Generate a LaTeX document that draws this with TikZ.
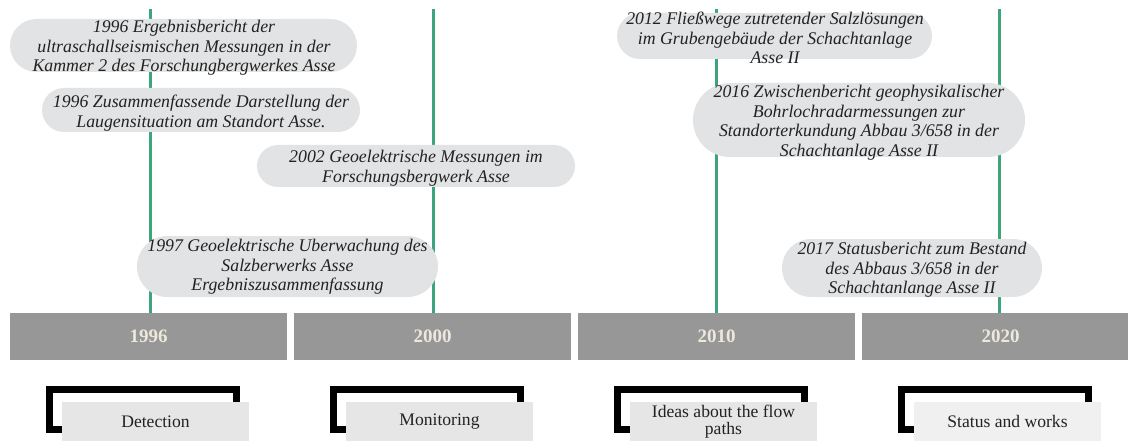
\documentclass[tikz,border=0pt]{standalone}
\usepackage{fontspec}
\setmainfont{Liberation Serif}
\usetikzlibrary{shapes.misc,calc}
\definecolor{bubblegrey}{HTML}{E2E3E5}
\definecolor{bargrey}{HTML}{979797}
\definecolor{yearcream}{HTML}{ECE8DC}
\definecolor{boxgrey}{HTML}{E6E6E6}
\definecolor{boxlight}{HTML}{F0F0F0}
\definecolor{linegreen}{HTML}{3DA47C}
\definecolor{textdark}{HTML}{222222}
\tikzset{
  bubble/.style={rounded rectangle, fill=bubblegrey, draw=none, inner sep=0pt},
  btext/.style={font=\fontsize{17.8}{19.5}\selectfont\itshape, align=center, text=textdark, inner sep=0pt},
  yearbar/.style={fill=bargrey, inner sep=0pt, minimum width=277pt, minimum height=47pt, font=\fontsize{19}{20}\selectfont\bfseries, text=yearcream},
  bracketline/.style={draw=black, line width=7pt},
  labelbox/.style={fill=boxgrey, inner sep=0pt, minimum width=187pt, minimum height=39pt, font=\fontsize{17.6}{17}\selectfont, align=center, text=textdark},
  vline/.style={draw=linegreen, line width=3pt}
}
\begin{document}
\begin{tikzpicture}[x=1pt,y=-1pt]
\useasboundingbox (0,0) rectangle (1128,441);
% year bars
\node[yearbar] (bar1) at (148.5,336.5) {1996};
\node[yearbar] (bar2) at (432.5,336.5) {2000};
\node[yearbar] (bar3) at (716.5,336.5) {2010};
\node[yearbar] (bar4) at (1000.5,336.5) {2020};
% green lines
\coordinate (t1) at (150.5,9);
\coordinate (t2) at (433,9);
\coordinate (t3) at (716,9);
\coordinate (t4) at (999.5,9);
\draw[vline] (t1) -- (t1 |- bar1.north);
\draw[vline] (t2) -- (t2 |- bar2.north);
\draw[vline] (t3) -- (t3 |- bar3.north);
\draw[vline] (t4) -- (t4 |- bar4.north);
% bubbles
\node[bubble, minimum width=347pt, minimum height=53pt] (b1) at (183.5,45.5) {};
\node[btext] (b1t) at ($(b1)+(0.5,2.5)$) {1996 Ergebnisbericht der\\ultraschallseismischen Messungen in der\\Kammer 2 des Forschungbergwerkes Asse};
\node[bubble, minimum width=318pt, minimum height=44pt] (b2) at (201,110) {};
\node[btext] (b2t) at ($(b2)+(0,3)$) {1996 Zusammenfassende Darstellung der\\Laugensituation am Standort Asse.};
\node[bubble, minimum width=318pt, minimum height=42pt] (b3) at (416,166) {};
\node[btext] (b3t) at ($(b3)+(0,2)$) {2002 Geoelektrische Messungen im\\Forschungsbergwerk Asse};
\node[bubble, minimum width=301pt, minimum height=61pt] (b4) at (287.5,266.5) {};
\node[btext] (b4t) at ($(b4)+(0,0.5)$) {1997 Geoelektrische Uberwachung des\\Salzberwerks Asse\\Ergebniszusammenfassung};
\node[bubble, minimum width=315pt, minimum height=46pt] (b5) at (774.5,36) {};
\node[btext] (b5t) at ($(b5)+(0.5,2)$) {2012 Fließwege zutretender Salzlösungen\\im Grubengebäude der Schachtanlage\\Asse II};
\node[bubble, minimum width=332pt, minimum height=74pt] (b6) at (859,120) {};
\node[btext] (b6t) at ($(b6)+(0,2.5)$) {2016 Zwischenbericht geophysikalischer\\Bohrlochradarmessungen zur\\Standorterkundung Abbau 3/658 in der\\Schachtanlage Asse II};
\node[bubble, minimum width=260pt, minimum height=58pt] (b7) at (912,268) {};
\node[btext] (b7t) at ($(b7)+(0,2)$) {2017 Statusbericht zum Bestand\\des Abbaus 3/658 in der\\Schachtanlange Asse II};
% brackets and labels
\draw[bracketline] (49.5,389.5) rectangle (236.5,429.5);
\node[labelbox] (l1) at (155.5,421.5) {Detection};
\draw[bracketline] (333.5,389.5) rectangle (520.5,429.5);
\node[labelbox] (l2) at (439.5,421.5) {Monitoring};
\draw[bracketline] (617.5,389.5) rectangle (804.5,429.5);
\node[labelbox] (l3) at (723.5,421.5) {Ideas about the flow\\paths};
\draw[bracketline] (901.5,389.5) rectangle (1088.5,429.5);
\node[labelbox, fill=boxlight] (l4) at (1007.5,421.5) {Status and works};
\end{tikzpicture}
\end{document}
